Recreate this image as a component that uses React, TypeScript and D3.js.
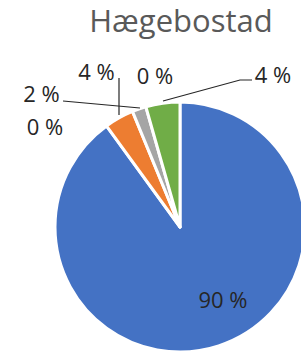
import React from "react";
import * as d3 from "d3";

const categories = ["A", "B", "C", "D", "E", "F"];
const values = [89.9, 0.0, 3.8, 1.8, 0.0, 4.4];
const colors = ["#4472C4", "#264478", "#ED7D31", "#A5A5A5", "#FFC000", "#70AD47"];
const labels = ["90 %", "0 %", "4 %", "2 %", "0 %", "4 %"];
const title = "Hægebostad";

const W = 301, H = 358;
const cx = 180, cy = 227, R = 125;

// label positions (text centre x, baseline y) and leader lines
const labelPos: [number, number][] = [
  [223, 308], [45, 135], [96.5, 80], [41.5, 102], [155, 84], [273, 83],
];
const leaders: ([number, number][] | null)[] = [
  null,
  null,
  [[119, 78], [119, 115]],
  [[63, 101], [140, 108]],
  null,
  [[252, 80], [240, 80], [163, 101]],
];

export default function App() {
  const pie = d3.pie<number>().sort(null).value((d) => d)(values);
  const arc = d3.arc<d3.PieArcDatum<number>>().innerRadius(0).outerRadius(R);
  const line = d3.line();
  const font = "Open Sans, sans-serif";
  return (
    <svg width={W} height={H} style={{ position: "absolute", left: 0, top: 0, background: "#fff" }}>
      <text x={181} y={32} textAnchor="middle" fontFamily={font} fontSize={31} fill="#595959">
        {title}
      </text>
      <g transform={`translate(${cx},${cy})`}>
        {pie.map((p, i) =>
          p.endAngle - p.startAngle > 0 ? (
            <path key={categories[i]} d={arc(p) || ""} fill={colors[i]} stroke="#fff" strokeWidth={3} strokeLinejoin="round" />
          ) : null
        )}
      </g>
      {leaders.map((l, i) =>
        l ? <path key={"l" + i} d={line(l) || ""} fill="none" stroke="#262626" strokeWidth={1.2} /> : null
      )}
      {labels.map((t, i) => (
        <text key={"t" + i} x={labelPos[i][0]} y={labelPos[i][1]} textAnchor="middle" fontFamily={font} fontSize={22} fill="#262626">
          {t}
        </text>
      ))}
    </svg>
  );
}
